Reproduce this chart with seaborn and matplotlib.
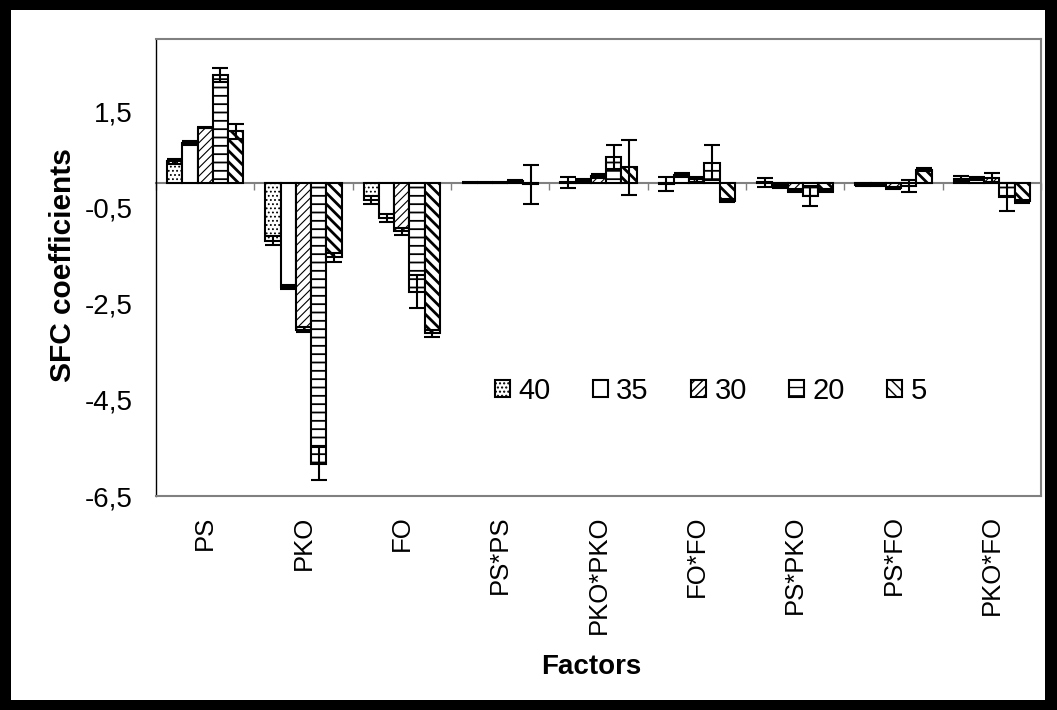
import numpy as np
import pandas as pd
import seaborn as sns
import matplotlib.pyplot as plt
import matplotlib.patches as mpatches

# factors on the x axis and the five levels (legend entries)
factors = ["PS", "PKO", "FO", "PS*PS", "PKO*PKO", "FO*FO", "PS*PKO", "PS*FO", "PKO*FO"]
levels = ["40", "35", "30", "20", "5"]

# SFC coefficients, one value per factor
coef_40 = [0.46, -1.19, -0.35, 0.01, 0.02, -0.01, 0.02, -0.03, 0.10]
coef_35 = [0.83, -2.15, -0.72, 0.01, 0.05, 0.18, -0.07, -0.04, 0.10]
coef_30 = [1.16, -3.04, -1.00, 0.01, 0.15, 0.08, -0.15, -0.10, 0.12]
coef_20 = [2.25, -5.83, -2.25, 0.04, 0.55, 0.43, -0.26, -0.06, -0.28]
coef_5 = [1.08, -1.54, -3.12, -0.02, 0.33, -0.36, -0.15, 0.28, -0.37]

# error bar half lengths
err_40 = [0.05, 0.10, 0.09, 0.01, 0.11, 0.14, 0.09, 0.02, 0.06]
err_35 = [0.04, 0.04, 0.09, 0.01, 0.03, 0.04, 0.03, 0.02, 0.04]
err_30 = [0.02, 0.05, 0.08, 0.01, 0.04, 0.05, 0.03, 0.02, 0.10]
err_20 = [0.14, 0.34, 0.35, 0.02, 0.25, 0.37, 0.21, 0.13, 0.29]
err_5 = [0.16, 0.10, 0.08, 0.40, 0.58, 0.03, 0.03, 0.03, 0.03]

yticks = [1.5, -0.5, -2.5, -4.5, -6.5]
ytick_labels = ["1,5", "-0,5", "-2,5", "-4,5", "-6,5"]

coefs = [coef_40, coef_35, coef_30, coef_20, coef_5]
errs = [err_40, err_35, err_30, err_20, err_5]

df = pd.DataFrame({
    "factor": factors * len(levels),
    "level": np.repeat(levels, len(factors)),
    "coef": sum(coefs, []),
})

sns.set_style("white")
plt.rcParams["font.family"] = ["Liberation Sans", "DejaVu Sans"]
for k in ["text.color", "axes.labelcolor", "xtick.color", "ytick.color"]:
    plt.rcParams[k] = "black"

# pattern for each level
hatches = {"40": "....", "35": "", "30": "////", "20": "--", "5": "\\\\\\"}
hatch_lw = {"40": 0.8, "35": 1.0, "30": 0.8, "20": 1.3, "5": 2.0}

W, H = 1057, 710
fig = plt.figure(figsize=(W / 100, H / 100), dpi=100)
fig.patch.set_facecolor("black")
fig.add_artist(mpatches.Rectangle((11 / W, 10 / H), (W - 23) / W, (H - 20) / H,
                                  transform=fig.transFigure, facecolor="white",
                                  edgecolor="none", zorder=-10))

ax = fig.add_axes([156 / W, 1 - 496 / H, (1041 - 156) / W, (496 - 39) / H])
sns.barplot(data=df, x="factor", y="coef", hue="level", order=factors,
            hue_order=levels, palette=["white"] * 5, saturation=1,
            width=0.775, gap=0, errorbar=None, legend=False,
            edgecolor="black", linewidth=1.5, ax=ax)

for cont, lev, vals, ee in zip(ax.containers, levels, coefs, errs):
    for bar in cont:
        bar.set_hatch(hatches[lev])
        try:
            bar.set_hatch_linewidth(hatch_lw[lev])
        except AttributeError:
            pass
    xs = [b.get_x() + b.get_width() / 2 for b in cont]
    ax.errorbar(xs, vals, yerr=ee, fmt="none", ecolor="black",
                elinewidth=1.5, capsize=5.5, capthick=1.5, zorder=3)

ax.set_xlim(-0.5, len(factors) - 0.5)
ax.set_ylim(-6.5, 3.0)
ax.set_yticks(yticks, ytick_labels)
ax.tick_params(axis="y", length=6.5, width=1, pad=10, labelsize=20, colors="black")
ax.tick_params(axis="x", length=0, pad=14, labelsize=18.5, labelrotation=90, colors="black")

for s in ["top", "right", "bottom"]:
    ax.spines[s].set_color("#808080")
    ax.spines[s].set_linewidth(1.5)
ax.spines["left"].set_color("black")
ax.spines["left"].set_linewidth(1)

# category axis crossing at zero
sec = ax.secondary_xaxis(0, transform=ax.transData)
sec.set_xticks(np.arange(-0.5, len(factors), 1))
sec.tick_params(axis="x", length=5, width=1, color="#808080",
                labelbottom=False, labeltop=False)
for s in ["top", "bottom"]:
    sec.spines[s].set_color("#808080")
    sec.spines[s].set_linewidth(1.5)

ax.set_ylabel("SFC coefficients", fontsize=21.5, fontweight="bold", color="black")
ax.yaxis.set_label_coords(-0.089, 0.505)
ax.set_xlabel("Factors", fontsize=20, fontweight="bold", color="black")
ax.xaxis.set_label_coords(0.4915, -0.345)

handles = [mpatches.Patch(facecolor="white", edgecolor="black", hatch=hatches[l],
                          linewidth=1.5, label=l) for l in levels]
ax.legend(handles=handles, ncol=5, loc="center", bbox_to_anchor=(0.627, 0.23),
          frameon=False, fontsize=21, handlelength=0.5, handleheight=0.5,
          handletextpad=0.3, columnspacing=1.45, labelcolor="black")

plt.savefig("out.png", dpi=100)
